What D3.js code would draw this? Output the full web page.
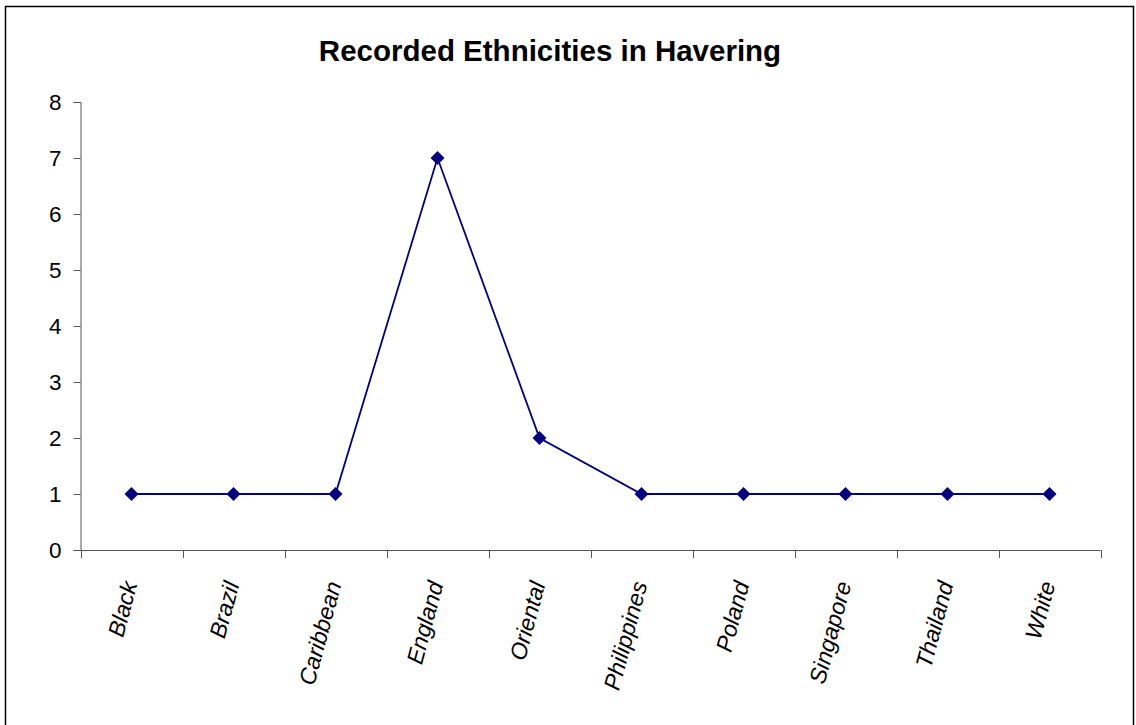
<!DOCTYPE html>
<html><head><meta charset="utf-8">
<script src="https://cdn.jsdelivr.net/npm/d3@7"></script>
<style>body{margin:0;background:#fff}svg{display:block}</style>
</head><body>
<script>
const categories = ["Black","Brazil","Caribbean","England","Oriental","Philippines","Poland","Singapore","Thailand","White"];
const values = [1,1,1,7,2,1,1,1,1,1];
const yTicks = [0,1,2,3,4,5,6,7,8];
const title = "Recorded Ethnicities in Havering";

(function(){
const W = 1136, H = 725;
const svg = d3.select("body").append("svg").attr("width", W).attr("height", H);
svg.append("rect").attr("x",5.5).attr("y",6.5).attr("width",1128).attr("height",740)
  .attr("fill","#fff").attr("stroke","#000").attr("stroke-width",1.5);

const mL = 80.5, mR = 1100.5, mT = 102, mB = 550;
const x = d3.scaleBand().domain(categories).range([mL, mR]);
const y = d3.scaleLinear().domain([0,8]).range([mB, mT]);

svg.append("text").attr("x",550).attr("y",61).attr("text-anchor","middle")
  .attr("font-family","Liberation Sans, Arial, sans-serif").attr("font-weight","bold")
  .attr("font-size",29.5).text(title);

const axisColor = "#555";
const ya = svg.append("g").attr("transform",`translate(${mL},0)`)
  .call(d3.axisLeft(y).tickValues(yTicks).tickSize(7).tickPadding(12).tickFormat(d3.format("d")));
ya.select(".domain").attr("stroke",axisColor);
ya.selectAll(".tick line").attr("stroke",axisColor);
ya.selectAll("text").attr("font-family","Liberation Sans, Arial, sans-serif").attr("font-size",22.5).attr("fill","#000");

const xg = svg.append("g");
xg.append("line").attr("x1",mL).attr("x2",mR).attr("y1",mB+0.5).attr("y2",mB+0.5).attr("stroke",axisColor);
const bounds = categories.map(c => x(c)).concat([mR]);
xg.selectAll("line.tk").data(bounds).enter().append("line").attr("class","tk")
  .attr("x1",d=>Math.round(d)+0.5).attr("x2",d=>Math.round(d)+0.5).attr("y1",mB).attr("y2",mB+8).attr("stroke",axisColor);
xg.selectAll("text").data(categories).enter().append("text")
  .attr("transform",d=>`translate(${x(d)+x.bandwidth()/2+6},${584}) rotate(-75)`)
  .attr("text-anchor","end").attr("font-style","italic")
  .attr("font-family","Liberation Sans, Arial, sans-serif").attr("font-size",23).text(d=>d);

const cx = d => x(d) + x.bandwidth()/2;
const line = d3.line().x((d,i)=>cx(categories[i])).y(d=>y(d));
svg.append("path").datum(values).attr("d",line).attr("fill","none").attr("stroke","#000080").attr("stroke-width",1.8);
const r = 7;
svg.selectAll("path.mk").data(values).enter().append("path").attr("class","mk")
  .attr("d",(d,i)=>{const px=cx(categories[i]), py=y(d);return `M${px},${py-r}L${px+r},${py}L${px},${py+r}L${px-r},${py}Z`;})
  .attr("fill","#000080");
})();
</script>
</body></html>
